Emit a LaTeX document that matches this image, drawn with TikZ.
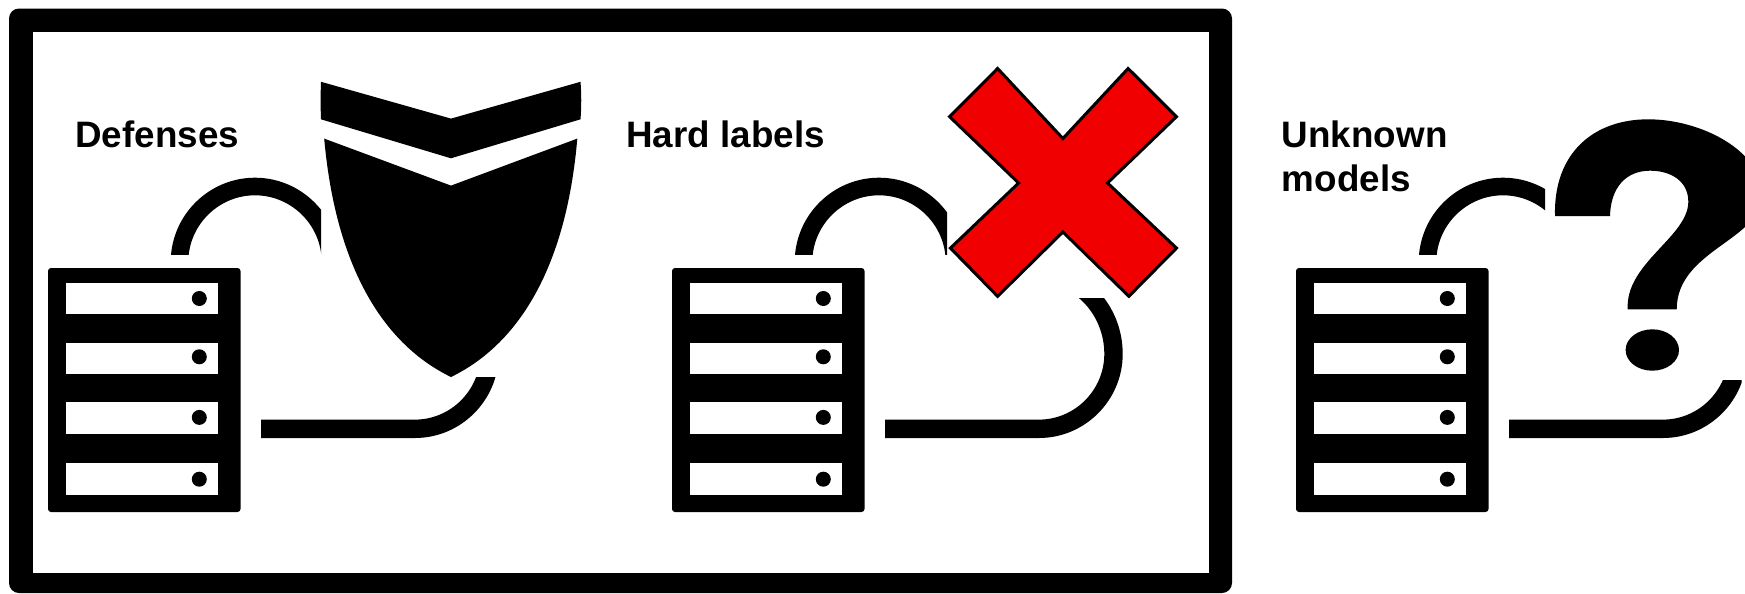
\documentclass[tikz,border=0pt]{standalone}
\usepackage{fontspec}
\setmainfont{Liberation Sans}
\definecolor{xred}{HTML}{F00000}
\tikzset{
  serverbox/.style={fill=black,rounded corners=1.5pt,inner sep=0pt,minimum width=96.25pt,minimum height=122pt},
  slotbox/.style={fill=white,inner sep=0pt,minimum width=75.8pt,minimum height=15.6pt},
  leddot/.style={circle,fill=black,inner sep=0pt,minimum size=7.5pt},
  cable/.style={draw=black,line width=9.2pt,line cap=butt},
  upcable/.style={draw=black,line width=8.8pt,line cap=butt},
  caption/.style={anchor=base west,inner sep=0pt,align=left,font=\fontsize{18.4pt}{22pt}\selectfont\bfseries}
}
\begin{document}
\begin{tikzpicture}[x=0.5pt,y=-0.5pt]
\useasboundingbox (0,0) rectangle (1745,594);
\clip (0,0) rectangle (1745,594);
% frame
\path[fill=black,rounded corners=5pt] (9,8.5) rectangle (1232,593);
\path[fill=white] (32.5,32) rectangle (1208.5,573);
% servers and cables
\foreach \i/\o in {1/0,2/624,3/1248}{
  \begin{scope}[shift={(\o,0)}]
    \node[serverbox] (srv\i) at (144.25,390) {};
    \foreach \j/\sy/\dy in {1/298.8/298.5,2/358.7/356.8,3/418/417.4,4/479/479.2}{
      \node[slotbox] (slot\i\j) at (142.2,\sy) {};
      \node[leddot] (led\i\j) at (199.3,\dy) {};
    }
    \coordinate (upa\i) at (179.5,262);
    \coordinate (upb\i) at (255,186.5);
    \coordinate (upc\i) at (330.5,262);
    \coordinate (lowa\i) at (261,428.8);
    \coordinate (lowb\i) at (415,428.8);
    \coordinate (lowc\i) at (489.5,354);
    \coordinate (lowd\i) at (415,274);
  \end{scope}
}
\begin{scope}
  \clip (0,170) rectangle (321,254);
  \draw[upcable] (upa1) .. controls +(0,-41.5) and +(-41.5,0) .. (upb1) .. controls +(41.5,0) and +(0,-41.5) .. (upc1);
\end{scope}
\begin{scope}
  \clip (700,170) rectangle (947,254);
  \draw[upcable] (upa2) .. controls +(0,-41.5) and +(-41.5,0) .. (upb2) .. controls +(41.5,0) and +(0,-41.5) .. (upc2);
\end{scope}
\begin{scope}
  \clip (1300,170) rectangle (1545,254);
  \draw[upcable] (upa3) .. controls +(0,-41.5) and +(-41.5,0) .. (upb3) .. controls +(41.5,0) and +(0,-41.5) .. (upc3);
\end{scope}
\begin{scope}
  \clip (200,377) rectangle (620,450);
  \draw[cable] (lowa1) -- (lowb1) .. controls +(41,0) and +(0,41) .. (lowc1) .. controls +(0,-44) and +(41,0) .. (lowd1);
\end{scope}
\begin{scope}
  \clip (800,298.5) rectangle (1200,450);
  \draw[cable] (lowa2) -- (lowb2) .. controls +(41,0) and +(0,41) .. (lowc2) .. controls +(0,-44) and +(41,0) .. (lowd2);
\end{scope}
\begin{scope}
  \clip (1450,380) rectangle (1741.5,450);
  \draw[cable] (lowa3) -- (lowb3) .. controls +(41,0) and +(0,41) .. (lowc3) .. controls +(0,-44) and +(41,0) .. (lowd3);
\end{scope}
% shield
\path[fill=black] (321,81.8) -- (451,118.6) -- (580.5,81.8) .. controls (581.5,94) and (581.5,107) .. (580.5,119.3) -- (451,158.3) -- (321,119.3) .. controls (320.5,107) and (320.5,94) .. (321,81.8) -- cycle;
\path[fill=black] (324.2,138.6) -- (451,185.6) -- (577.3,138.6) .. controls (566,270) and (517,345) .. (451,377) .. controls (385,345) and (336,270) .. (324.2,138.6) -- cycle;
% red cross
\path[fill=xred,draw=black,line width=1.5pt,line join=miter]
 (997.6,68.5) -- (949.6,116.7) -- (1018.6,183) -- (950.4,248.1) -- (997.6,296.3) -- (1062.9,232) -- (1128.9,296.3) -- (1176.5,248.1) -- (1107.5,183) -- (1176.5,116.7) -- (1128.1,68.5) -- (1062.9,138.5) -- cycle;
% question mark
\path[fill=black] (1555,216) .. controls (1553.3,153.3) and (1593.3,119.3) .. (1648.3,119.3) .. controls (1700,119.3) and (1762,150) .. (1762,195) .. controls (1762,240) and (1676.7,250) .. (1676.7,309.3) -- (1627.7,309.3) .. controls (1625,263.3) and (1688.3,236.7) .. (1688.3,201.7) .. controls (1688.3,181.7) and (1671.7,170.7) .. (1650,170.7) .. controls (1626.7,170.7) and (1610.7,186.7) .. (1610,216) -- cycle;
\path[fill=black] (1652.3,350) ellipse [x radius=26.7,y radius=20.7];
% captions
\node[caption] (capa) at (75,147) {Defenses};
\node[caption] (capb) at (626,147) {Hard labels};
\node[caption] (capc) at (1281.5,191) {Unknown\\models};
\end{tikzpicture}
\end{document}
